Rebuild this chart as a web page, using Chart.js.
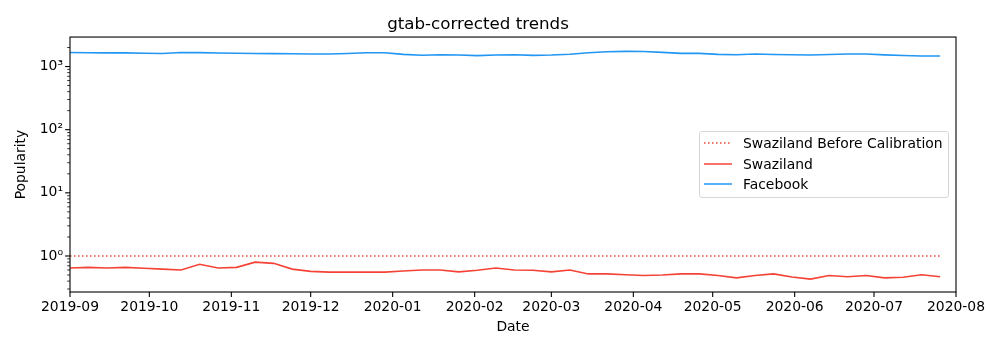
<!DOCTYPE html>
<html>
<head>
<meta charset="utf-8">
<script src="https://cdn.jsdelivr.net/npm/chart.js@4/dist/chart.umd.min.js"></script>
<style>
  body { margin: 0; background: #fff; }
  #wrap { position: relative; width: 1000px; height: 350px; }
  #legend {
    position: absolute; left: 699px; top: 131px; width: 250px; height: 67px;
    box-sizing: border-box; border: 1px solid #d6d6d6; border-radius: 3px;
    background: rgba(255,255,255,0.8); padding-top: 1px;
    font-family: "DejaVu Sans", sans-serif; font-size: 13.9px; color: #000;
  }
  .lg-row { height: 20.6px; display: flex; align-items: center; }
  .lg-row svg { margin-left: 4px; margin-right: 11px; }
</style>
</head>
<body>
<div id="wrap">
  <canvas id="trends" width="1000" height="350"></canvas>
  <div id="legend"></div>
</div>
<script>
// --- Data (weekly) ---
const weeks = [
  "2019-09-01", "2019-09-08", "2019-09-15", "2019-09-22", "2019-09-29",
  "2019-10-06", "2019-10-13", "2019-10-20", "2019-10-27",
  "2019-11-03", "2019-11-10", "2019-11-17", "2019-11-24",
  "2019-12-01", "2019-12-08", "2019-12-15", "2019-12-22", "2019-12-29",
  "2020-01-05", "2020-01-12", "2020-01-19", "2020-01-26",
  "2020-02-02", "2020-02-09", "2020-02-16", "2020-02-23",
  "2020-03-01", "2020-03-08", "2020-03-15", "2020-03-22", "2020-03-29",
  "2020-04-05", "2020-04-12", "2020-04-19", "2020-04-26",
  "2020-05-03", "2020-05-10", "2020-05-17", "2020-05-24", "2020-05-31",
  "2020-06-07", "2020-06-14", "2020-06-21", "2020-06-28",
  "2020-07-05", "2020-07-12", "2020-07-19", "2020-07-26",
];

const swazilandBefore = [
  1, 1, 1, 1, 1, 1, 1, 1, 1, 1, 1, 1, 1, 1, 1, 1,
  1, 1, 1, 1, 1, 1, 1, 1, 1, 1, 1, 1, 1, 1, 1, 1,
  1, 1, 1, 1, 1, 1, 1, 1, 1, 1, 1, 1, 1, 1, 1, 1,
];

const swaziland = [
  0.645, 0.66, 0.645, 0.66, 0.64, 0.62, 0.60, 0.74,
  0.645, 0.66, 0.80, 0.765, 0.62, 0.57, 0.555, 0.555,
  0.555, 0.555, 0.58, 0.60, 0.60, 0.56, 0.595, 0.645,
  0.60, 0.595, 0.56, 0.60, 0.52, 0.52, 0.505, 0.49,
  0.50, 0.52, 0.52, 0.49, 0.45, 0.49, 0.52, 0.465,
  0.43, 0.49, 0.47, 0.49, 0.45, 0.46, 0.505, 0.47,
];

const facebook = [
  1665, 1653, 1647, 1645, 1625, 1605, 1665, 1660,
  1635, 1625, 1605, 1600, 1590, 1577, 1577, 1605,
  1653, 1653, 1560, 1510, 1537, 1520, 1488, 1520,
  1537, 1504, 1520, 1565, 1653, 1710, 1740, 1727,
  1678, 1618, 1618, 1560, 1537, 1577, 1550, 1537,
  1520, 1550, 1577, 1577, 1530, 1495, 1466, 1466,
];

// --- Axis ticks ---
const xTickDates = [
  "2019-09-01", "2019-10-01", "2019-11-01", "2019-12-01", "2020-01-01",
  "2020-02-01", "2020-03-01", "2020-04-01", "2020-05-01", "2020-06-01",
  "2020-07-01", "2020-08-01",
];
const xTickLabels = [
  "2019-09", "2019-10", "2019-11", "2019-12", "2020-01", "2020-02",
  "2020-03", "2020-04", "2020-05", "2020-06", "2020-07", "2020-08",
];
const yMajorTicks = [1, 10, 100, 1000];
const yMajorLabels = ["10\u2070", "10\u00b9", "10\u00b2", "10\u00b3"];
const yMin = 0.269;
const yMax = 2930;

const RED = "#f44336";
const BLUE = "#2196f3";
const FONT = "'DejaVu Sans', sans-serif";

const toPoints = (vals) => vals.map((v, i) => ({ x: Date.parse(weeks[i]), y: v }));

// --- Tick marks + frame, matplotlib style ---
const axisFrame = {
  id: "axisFrame",
  afterDraw(chart) {
    const { ctx, chartArea: a, scales } = chart;
    const line = (x1, y1, x2, y2) => {
      ctx.beginPath();
      ctx.moveTo(x1, y1);
      ctx.lineTo(x2, y2);
      ctx.stroke();
    };
    ctx.save();
    ctx.strokeStyle = "#000";
    ctx.lineWidth = 1.1;
    scales.x.ticks.forEach((t) => {
      const px = scales.x.getPixelForValue(t.value);
      line(px, a.bottom, px, a.bottom + 4.9);
    });
    scales.y.ticks.forEach((t) => {
      const py = scales.y.getPixelForValue(t.value);
      const major = yMajorTicks.includes(t.value);
      ctx.lineWidth = major ? 1.1 : 0.8;
      line(a.left, py, a.left - (major ? 4.9 : 2.8), py);
    });
    ctx.lineWidth = 1.1;
    ctx.strokeRect(a.left, a.top, a.right - a.left, a.bottom - a.top);
    ctx.restore();
  },
};

const ctx = document.getElementById("trends").getContext("2d");
const trendsChart = new Chart(ctx, {
  type: "line",
  data: {
    datasets: [
      {
        label: "Swaziland Before Calibration",
        data: toPoints(swazilandBefore),
        borderColor: RED,
        borderWidth: 1.6,
        borderDash: [1.5, 2.5],
      },
      {
        label: "Swaziland",
        data: toPoints(swaziland),
        borderColor: RED,
        borderWidth: 1.6,
      },
      {
        label: "Facebook",
        data: toPoints(facebook),
        borderColor: BLUE,
        borderWidth: 1.6,
      },
    ],
  },
  options: {
    responsive: false,
    animation: false,
    devicePixelRatio: 1,
    elements: { point: { radius: 0 }, line: { tension: 0 } },
    layout: { padding: { left: 0, right: 44, top: 0, bottom: 0 } },
    plugins: {
      legend: { display: false },
      tooltip: { enabled: false },
      title: {
        display: true,
        text: "gtab-corrected trends",
        color: "#000",
        font: { family: FONT, size: 16.7, weight: "normal", lineHeight: 1.2 },
        padding: { top: 15, bottom: 2 },
      },
    },
    scales: {
      x: {
        type: "linear",
        min: Date.parse(xTickDates[0]),
        max: Date.parse(xTickDates[xTickDates.length - 1]),
        afterBuildTicks: (s) => {
          s.ticks = xTickDates.map((d) => ({ value: Date.parse(d) }));
        },
        afterFit: (s) => {
          s.height = 58;
        },
        grid: { display: false, drawTicks: false },
        border: { display: false },
        ticks: {
          autoSkip: false,
          maxRotation: 0,
          padding: 7,
          color: "#000",
          font: { family: FONT, size: 13.9 },
          callback: (v) => xTickLabels[xTickDates.findIndex((d) => Date.parse(d) === v)],
        },
        title: {
          display: true,
          text: "Date",
          color: "#000",
          font: { family: FONT, size: 13.9 },
          padding: { top: 0, bottom: 14 },
        },
      },
      y: {
        type: "logarithmic",
        min: yMin,
        max: yMax,
        afterBuildTicks: (s) => {
          const ticks = [];
          [0.1, 1, 10, 100, 1000].forEach((dec) => {
            for (let m = 1; m <= 9; m++) {
              const v = +(dec * m).toPrecision(3);
              if (v >= yMin && v <= yMax) ticks.push({ value: v });
            }
          });
          s.ticks = ticks;
        },
        afterFit: (s) => {
          s.width = 70;
        },
        grid: { display: false, drawTicks: false },
        border: { display: false },
        ticks: {
          autoSkip: false,
          padding: 7,
          color: "#000",
          font: { family: FONT, size: 13.9 },
          callback: (v) => {
            const i = yMajorTicks.indexOf(v);
            return i >= 0 ? yMajorLabels[i] : "";
          },
        },
        title: {
          display: true,
          text: "Popularity",
          color: "#000",
          font: { family: FONT, size: 13.9 },
          padding: { top: 13, bottom: 0 },
        },
      },
    },
  },
  plugins: [axisFrame],
});

// --- Legend (HTML, inside the plot area like matplotlib's) ---
document.getElementById("legend").innerHTML = trendsChart.data.datasets
  .map((d) => {
    const dash = d.borderDash ? `stroke-dasharray="${d.borderDash.join(" ")}"` : "";
    return `<div class="lg-row">
      <svg width="28" height="6"><line x1="0" y1="3" x2="28" y2="3" stroke="${d.borderColor}" stroke-width="1.5" ${dash}/></svg>
      <span>${d.label}</span>
    </div>`;
  })
  .join("");
</script>
</body>
</html>
